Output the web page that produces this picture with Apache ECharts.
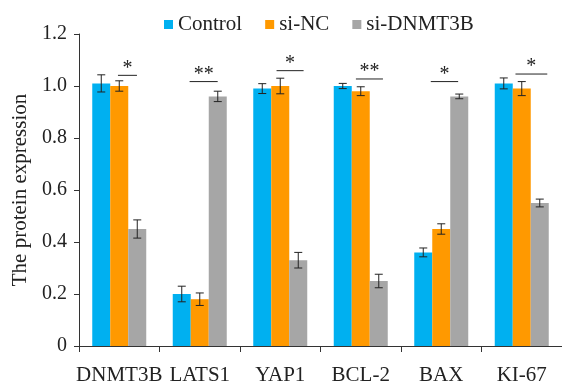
<!DOCTYPE html>
<html><head><meta charset="utf-8">
<script src="https://cdn.jsdelivr.net/npm/echarts@6/dist/echarts.min.js"></script>
<style>html,body{margin:0;padding:0;background:#fff}#c{width:562px;height:388px}</style>
</head><body><div id="c"></div>
<script>
const categories = ['DNMT3B', 'LATS1', 'YAP1', 'BCL-2', 'BAX', 'KI-67'];
const seriesNames = ['Control', 'si-NC', 'si-DNMT3B'];
const controlValues = [1.01, 0.20, 0.99, 1.00, 0.36, 1.01];
const controlErrors = [0.033, 0.03, 0.019, 0.01, 0.017, 0.021];
const siNCValues = [1.00, 0.18, 1.00, 0.98, 0.45, 0.99];
const siNCErrors = [0.02, 0.024, 0.03, 0.017, 0.02, 0.027];
const siDNMT3BValues = [0.45, 0.96, 0.33, 0.25, 0.96, 0.55];
const siDNMT3BErrors = [0.035, 0.02, 0.03, 0.026, 0.009, 0.015];
const yMin = 0, yMax = 1.2, yStep = 0.2;
// significance annotations: label, bracket level (value), bracket span relative to category centre (in category widths)
const sigLabels = ['*', '**', '*', '**', '*', '*'];
const sigLevels = [1.041, 1.017, 1.059, 1.027, 1.017, 1.046];
const sigStart = [-0.016, -0.126, -0.046, -0.06, -0.13, -0.078];
const sigEnd = [0.22, 0.223, 0.29, 0.276, 0.21, 0.317];

const colors = ['#00B0F0', '#FF9900', '#A6A6A6'];
const FONT = "'Liberation Serif', 'Times New Roman', serif";
const BAR_W = 18;
const valueSets = [controlValues, siNCValues, siDNMT3BValues];
const errorSets = [controlErrors, siNCErrors, siDNMT3BErrors];

function errRender(k) {
  return function (params, api) {
    const c = api.value(0), v = api.value(1), e = api.value(2);
    const hi = api.coord([c, v + e]);
    const lo = api.coord([c, v - e]);
    const x = hi[0] + (k - 1) * BAR_W;
    const hw = 4;
    const st = { stroke: '#222', lineWidth: 1 };
    return { type: 'group', children: [
      { type: 'line', shape: { x1: x, y1: hi[1], x2: x, y2: lo[1] }, style: st },
      { type: 'line', shape: { x1: x - hw, y1: hi[1], x2: x + hw, y2: hi[1] }, style: st },
      { type: 'line', shape: { x1: x - hw, y1: lo[1], x2: x + hw, y2: lo[1] }, style: st }
    ]};
  };
}

const series = [];
seriesNames.forEach((name, k) => {
  series.push({
    name: name, type: 'bar', data: valueSets[k], barWidth: BAR_W, barGap: '0%',
    itemStyle: { color: colors[k] }
  });
});
seriesNames.forEach((name, k) => {
  series.push({
    type: 'custom', z: 5, silent: true,
    renderItem: errRender(k),
    encode: { x: 0, y: 1 },
    data: categories.map((c, i) => [i, valueSets[k][i], errorSets[k][i]])
  });
});
series.push({
  type: 'custom', z: 5, silent: true,
  encode: { x: 0, y: 1 },
  data: categories.map((c, i) => [i, sigLevels[i], sigStart[i], sigEnd[i]]),
  renderItem: function (params, api) {
    const i = params.dataIndex;
    const p = api.coord([api.value(0), api.value(1)]);
    const bw = api.size([1, 0])[0];
    const x0 = p[0] + api.value(2) * bw, x1 = p[0] + api.value(3) * bw;
    return { type: 'group', children: [
      { type: 'line', shape: { x1: x0, y1: p[1], x2: x1, y2: p[1] }, style: { stroke: '#222', lineWidth: 1 } },
      { type: 'text', style: { text: sigLabels[i], x: (x0 + x1) / 2, y: p[1] - 7, align: 'center', verticalAlign: 'middle', fontSize: 20, fontFamily: FONT, fill: '#222' } }
    ]};
  }
});

const chart = echarts.init(document.getElementById('c'), null, { renderer: 'canvas' });
chart.setOption({
  animation: false,
  backgroundColor: '#fff',
  legend: {
    data: seriesNames, left: 159, top: 9, icon: 'rect', itemWidth: 9, itemHeight: 9, itemGap: 23,
    textStyle: { fontSize: 21, fontFamily: FONT, color: '#222', padding: [0, 0, 7, 0] }
  },
  grid: { left: 79, top: 34, width: 487, height: 312 },
  xAxis: {
    type: 'category', data: categories,
    axisLine: { lineStyle: { color: '#333', width: 1 } },
    axisTick: { show: true, length: 6, lineStyle: { color: '#333' } },
    axisLabel: { fontSize: 21, fontFamily: FONT, color: '#222', margin: 19, interval: 0 }
  },
  yAxis: {
    type: 'value', min: yMin, max: yMax, interval: yStep,
    name: 'The protein expression', nameLocation: 'middle', nameGap: 47,
    nameTextStyle: { fontSize: 21, fontFamily: FONT, color: '#222' },
    splitLine: { show: false },
    axisLine: { show: true, lineStyle: { color: '#333', width: 1 } },
    axisTick: { show: true, length: 5, lineStyle: { color: '#333' } },
    axisLabel: { fontSize: 20, fontFamily: FONT, color: '#222', margin: 12,
      formatter: v => (v === 0 ? '0' : v.toFixed(1)) }
  },
  series: series
});
</script></body></html>
